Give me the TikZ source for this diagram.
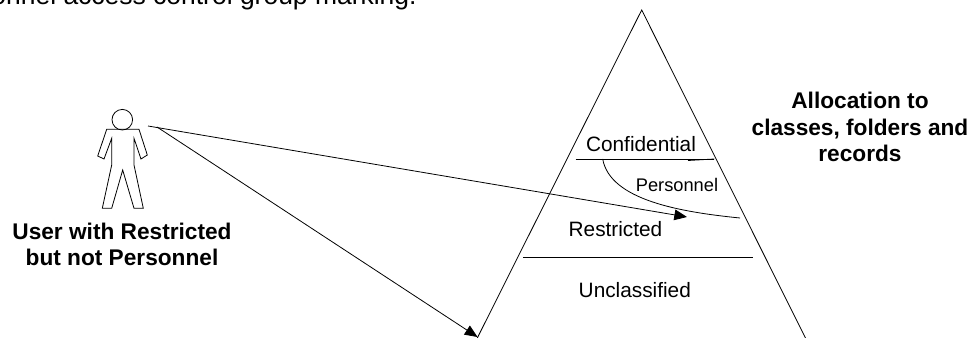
\documentclass[tikz,border=0pt]{standalone}
\usepackage{fontspec}
\setmainfont{Liberation Sans}
\usetikzlibrary{arrows.meta, calc, positioning}

\begin{document}
\begin{tikzpicture}[
            x=0.75pt,
            y=-0.75pt,
            >={Triangle[length=9.5pt, width=8pt]},
            line width=0.6pt,
            level/.style={anchor=base, font=\fontsize{15.6}{18}\selectfont},
            heading/.style={anchor=base, align=center, font=\fontsize{17}{20.2}\selectfont\bfseries}
        ]
        \useasboundingbox (0, 0) rectangle (972, 338);

        % Caption cut by the page
        \node [anchor=base east, inner sep=0pt, font=\fontsize{19.85}{23}\selectfont] (caption) at (417, 4.5) {Personnel access control group marking.};

        % User
        \node [draw, circle, minimum size=20.6*0.75pt, inner sep=0pt] (head) at (122.3, 119.7) {};
        \draw (106.7, 129.3) -- (139, 129.3) -- (147.3, 155) -- (141, 159) -- (134, 138.3) -- (134, 165) -- (143.3, 208.3) -- (134, 208.3) -- (122.7, 170) -- (111.7, 208.3) -- (102.3, 208.3) -- (111.7, 165) -- (111.7, 138.3) -- (104, 159) -- (97.7, 156) -- cycle;
        \node [heading] (user) at (122, 266) {User with Restricted\\but not Personnel};
        \coordinate (user_start) at (148, 126);
        \coordinate (user_fork) at (157, 127);

        % Pyramid
        \coordinate (apex) at (641.7, 10);
        \coordinate (base_l) at (477.3, 338);
        \coordinate (base_r) at (805.5, 338);
        \draw (base_l) -- (apex) -- (base_r);
        \node [heading] (allocation) at (860, 162) {Allocation to\\classes, folders and\\records};

        % Levels
        \node [level] (confidential) at (641, 151.7) {Confidential};
        \node [level, font=\fontsize{13.7}{16}\selectfont] (personnel) at (677, 191.7) {Personnel};
        \node [level] (restricted) at (615.5, 236.7) {Restricted};
        \node [level] (unclassified) at (634.8, 297.3) {Unclassified};

        \coordinate (conf_l) at (575.7, 159);
        \coordinate (conf_r) at (714.3, 159);
        \coordinate (conf_t) at (688, 160.5);
        \coordinate (pers_s) at (602.7, 159);
        \coordinate (pers_e) at (740, 218);
        \coordinate (rest_l) at (523.3, 257.3);
        \coordinate (rest_r) at (753.3, 257.3);
        \draw (conf_l) -- (conf_r);
        \draw (conf_t) -- (conf_r);
        \draw (rest_l) -- (rest_r);
        \draw (pers_s) .. controls (610, 200) and (680, 212) .. (pers_e);

        % Access arrows
        \coordinate (tip_r) at (687, 217);
        \coordinate (tip_b) at (477.5, 337);
        \draw[->] (user_start) -- (tip_r);
        \draw[->] (user_fork) -- (tip_b);
    \end{tikzpicture}
\end{document}
